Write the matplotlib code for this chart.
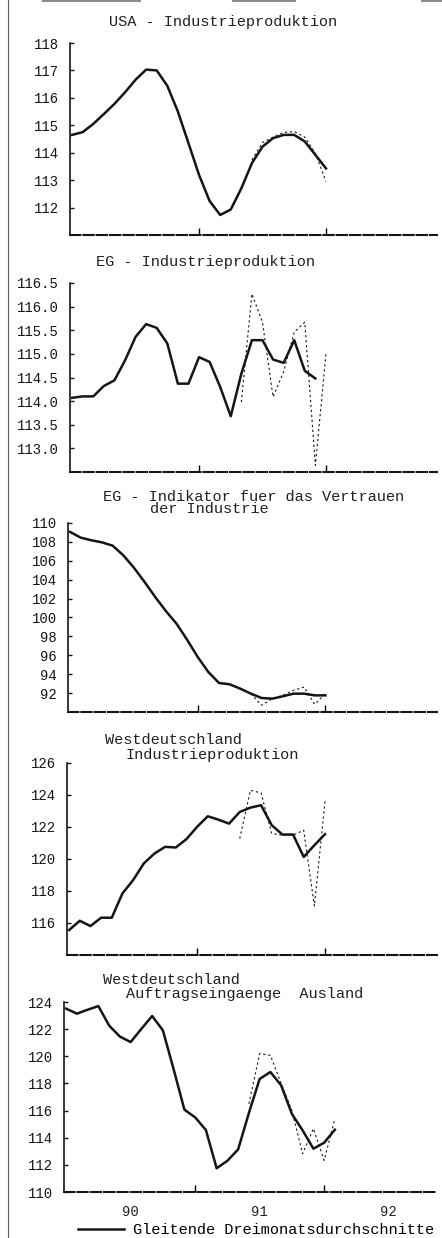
import numpy as np
import matplotlib
matplotlib.use("Agg")
import matplotlib.pyplot as plt
from matplotlib.lines import Line2D

# Monthly index: 0 = Jan 1990
year_ticks = [12, 24]
year_label_pos = [6, 18, 30]
year_labels = ["90", "91", "92"]

# USA - Industrieproduktion
usa_avg = [114.65, 114.75, 115.05, 115.41, 115.78, 116.20, 116.66, 117.03, 117.00,
           116.44, 115.50, 114.35, 113.19, 112.24, 111.73, 111.93, 112.70, 113.62,
           114.22, 114.53, 114.65, 114.65, 114.41, 113.92, 113.43]
usa_month = [113.74, 114.37, 114.57, 114.74, 114.77, 114.57, 113.98, 112.95]
usa_start = 17
usa_ticks = [112, 113, 114, 115, 116, 117, 118]

# EG - Industrieproduktion
eg_avg = [114.07, 114.10, 114.10, 114.32, 114.44, 114.86, 115.36, 115.63, 115.55,
          115.22, 114.37, 114.37, 114.93, 114.83, 114.30, 113.68, 114.58, 115.29,
          115.29, 114.88, 114.81, 115.29, 114.64, 114.48]
eg_month = [113.98, 116.27, 115.67, 114.09, 114.62, 115.46, 115.67, 112.64, 115.00]
eg_start = 16
eg_ticks = [113.0, 113.5, 114.0, 114.5, 115.0, 115.5, 116.0, 116.5]

# EG - Indikator fuer das Vertrauen der Industrie
conf_avg = [109.05, 108.45, 108.17, 107.95, 107.60, 106.58, 105.27, 103.76, 102.17,
            100.69, 99.35, 97.65, 95.82, 94.23, 93.07, 92.93, 92.47, 91.94,
            91.48, 91.41, 91.66, 91.94, 91.94, 91.76, 91.76]
conf_month = [91.94, 90.71, 91.41, 91.76, 92.29, 92.64, 90.81, 91.94]
conf_start = 17
conf_ticks = [92, 94, 96, 98, 100, 102, 104, 106, 108, 110]

# Westdeutschland Industrieproduktion
wdi_avg = [115.56, 116.14, 115.81, 116.33, 116.33, 117.85, 118.68, 119.72, 120.34,
           120.76, 120.72, 121.24, 122.01, 122.67, 122.46, 122.21, 122.94, 123.21,
           123.36, 122.11, 121.53, 121.53, 120.13, 120.86, 121.55]
wdi_month = [121.28, 124.29, 124.13, 121.59, 121.49, 121.49, 121.80, 117.06, 123.63]
wdi_start = 16
wdi_ticks = [116, 118, 120, 122, 124, 126]

# Westdeutschland Auftragseingaenge Ausland
wdo_avg = [123.51, 123.14, 123.43, 123.70, 122.26, 121.45, 121.05, 122.02, 122.97,
           121.91, 119.04, 116.07, 115.50, 114.57, 111.75, 112.30, 113.14, 115.82,
           118.33, 118.84, 117.86, 115.75, 114.54, 113.19, 113.63, 114.59]
wdo_month = [116.5, 120.2, 120.07, 118.0, 116.0, 112.82, 114.67, 112.33, 115.4]
wdo_start = 17
wdo_ticks = [110, 112, 114, 116, 118, 120, 122, 124]

W, H = 442, 1238
FONT = "Liberation Mono"
INK = "#151515"
TXT = "#202020"
TSIZE = 11      # titles / legend
LSIZE = 10      # tick labels

fig = plt.figure(figsize=(W / 100, H / 100), dpi=100)
fig.patch.set_facecolor("white")


def fx(x):
    return x / W


def fy(y):
    return 1 - y / H


def panel(rect, avg, month, start, ticks, ylim, fmt, label=None):
    left, top, bottom = rect
    ax = fig.add_axes([fx(left), fy(bottom), fx(437) - fx(left), (bottom - top) / H])
    line, = ax.plot(np.arange(len(avg)), avg, color=INK, lw=1.8,
                    solid_joinstyle="round", label=label)
    ax.plot(np.arange(start, start + len(month)), month, color=INK, lw=0.8,
            ls=(0, (2, 2.5)))
    ax.set_xlim(-0.2, 34.5)
    ax.set_ylim(*ylim)
    ax.set_yticks(ticks)
    ax.set_yticklabels([fmt.format(t) for t in ticks], family=FONT, fontsize=LSIZE,
                       color=TXT)
    ax.tick_params(axis="y", direction="in", length=3, width=1, pad=8, colors=INK)
    ax.set_xticks(year_ticks)
    ax.set_xticklabels([])
    ax.tick_params(axis="x", direction="in", length=5, width=1)
    for s in ("top", "right"):
        ax.spines[s].set_visible(False)
    ax.spines["left"].set_linewidth(1.2)
    ax.spines["left"].set_color(INK)
    ax.spines["bottom"].set_linewidth(1.5)
    ax.spines["bottom"].set_linestyle((0, (5, 1.4)))
    ax.spines["bottom"].set_color(INK)
    ax.set_facecolor("none")
    return ax, line


def title(x, y, s):
    fig.text(fx(x), fy(y), s, family=FONT, fontsize=TSIZE, color=TXT,
             ha="center", va="center")


panel((70, 43, 235), usa_avg, usa_month, usa_start, usa_ticks, (111, 118), "{:.0f}")
title(223, 22, "USA - Industrieproduktion")

panel((70, 283, 472), eg_avg, eg_month, eg_start, eg_ticks, (112.5, 116.5), "{:.1f}")
title(206, 262, "EG - Industrieproduktion")

panel((68, 523, 712), conf_avg, conf_month, conf_start, conf_ticks, (90, 110), "{:.0f}")
title(254, 497, "EG - Indikator fuer das Vertrauen")
title(209, 509, "der Industrie")

panel((67, 763, 955), wdi_avg, wdi_month, wdi_start, wdi_ticks, (114, 126), "{:.0f}")
title(173, 740, "Westdeutschland")
title(212, 755, "Industrieproduktion")

ax5, avg_line = panel((64, 1002, 1192), wdo_avg, wdo_month, wdo_start, wdo_ticks,
                      (110, 124), "{:.0f}", label="Gleitende Dreimonatsdurchschnitte")
title(171, 980, "Westdeutschland")
title(245, 994, "Auftragseingaenge  Ausland")

ax5.set_xticks(year_label_pos, minor=True)
ax5.set_xticklabels(year_labels, minor=True, family=FONT, fontsize=LSIZE, color=TXT)
ax5.tick_params(axis="x", which="minor", length=0, pad=9)

fig.legend(handles=[avg_line], loc="center left", bbox_to_anchor=(fx(78), fy(1230)),
           frameon=False, borderpad=0, borderaxespad=0, handlelength=3.0,
           handletextpad=0.6, prop={"family": FONT, "size": TSIZE})

# page edge of the scanned sheet
fig.add_artist(Line2D([fx(8), fx(8)], [0, 1], transform=fig.transFigure,
                      color="0.35", lw=0.8))
for x0, x1 in [(43, 140), (233, 295), (422, 442)]:
    fig.add_artist(Line2D([fx(x0), fx(x1)], [fy(1), fy(1)], transform=fig.transFigure,
                          color="0.55", lw=1.5))

fig.savefig("out.png", dpi=100, facecolor="white")
